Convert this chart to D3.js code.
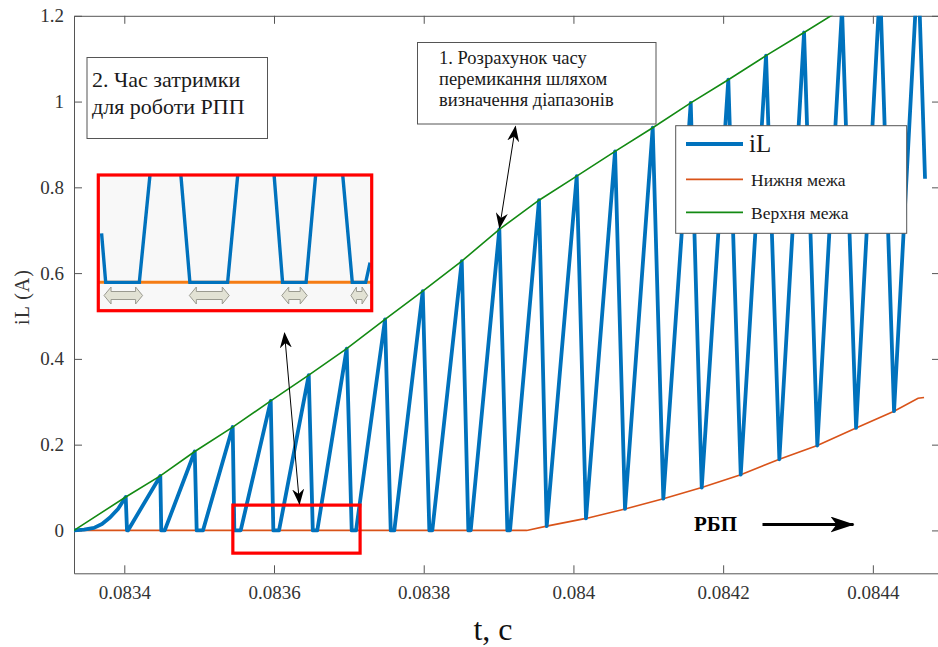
<!DOCTYPE html>
<html><head><meta charset="utf-8">
<script src="https://cdn.jsdelivr.net/npm/d3@7"></script>
<style>
body{margin:0;background:#fff;}
svg{display:block;}
text{font-family:"Liberation Serif","Times New Roman",serif;}
</style></head>
<body>
<svg id="chart" width="938" height="647"></svg>
<script>
// ---- data ----
const tiL = [0.0833328,0.0833462,0.0833595,0.0833702,0.0833809,0.0833916,0.0834019,0.0834036,0.0834049,
  0.0834481,0.0834494,0.0834540,0.0834941,0.0834967,0.0835051,0.0835448,0.0835470,0.0835555,
  0.0835956,0.0835991,0.0836067,0.0836464,0.0836518,0.0836578,0.0836971,0.0837038,0.0837096,
  0.0837483,0.0837559,0.0837607,0.0837987,0.0838075,0.0838115,0.0838508,0.0838596,0.0838628,
  0.0839010,0.0839117,0.0839153,0.0839540,0.0839643,0.0840044,0.0840168,0.0840556,0.0840689,
  0.0841059,0.0841201,0.0841567,0.0841714,0.0842069,0.0842235,0.0842573,0.0842751,0.0843081,
  0.0843258,0.0843588,0.0843776,0.0844096,0.0844283,0.0844604,0.0844697];
const iL = [0,0.002,0.006,0.015,0.030,0.050,0.078,0,0,
  0.127,0,0,0.184,0,0,0.241,0,0,
  0.302,0,0,0.362,0,0,0.424,0,0,
  0.492,0,0,0.558,0,0,0.628,0,0,
  0.702,0,0,0.770,0.010,0.826,0.028,0.884,0.050,
  0.939,0.074,0.997,0.100,1.051,0.130,1.107,0.166,1.161,
  0.198,1.216,0.239,1.270,0.278,1.325,0.820];
const tLower = [0.0833328,0.0839376,0.0839643,0.0840168,0.0840689,0.0841201,0.0841714,0.0842235,0.0842751,0.0843258,0.0843776,0.0844283,0.0844604,0.0844684];
const lower  = [0,0,0.010,0.028,0.050,0.074,0.100,0.130,0.166,0.198,0.239,0.278,0.308,0.310];
const tUpper = [0.0833328,0.0834019,0.0834481,0.0834941,0.0835448,0.0835956,0.0836464,0.0836971,0.0837483,0.0837987,0.0838508,0.0839010,0.0839540,0.0840044,0.0840556,0.0841059,0.0841567,0.0842069,0.0842573,0.0843081,0.0843588,0.0844096,0.0844604];
const upper  = [0,0.078,0.127,0.184,0.241,0.302,0.362,0.424,0.492,0.558,0.628,0.702,0.770,0.826,0.884,0.939,0.997,1.051,1.107,1.161,1.216,1.270,1.325];
const xTicks = [0.0834,0.0836,0.0838,0.0840,0.0842,0.0844];
const xTickLabels = ["0.0834","0.0836","0.0838","0.084","0.0842","0.0844"];
const yTicks = [0,0.2,0.4,0.6,0.8,1.0,1.2];
const yTickLabels = ["0","0.2","0.4","0.6","0.8","1","1.2"];
const zoomBox = {t0:0.083545, t1:0.083715, v0:-0.053, v1:0.059};
// inset (schematic magnification), in inset units 0..100
const insetU = [1.2,2.7,15.0,18.9,null,30.2,33.5,47.3,51.0,null,64.3,67.4,76.0,79.5,null,89.4,92.9,97.8,99.4];
const insetW = [57.0,20.9,20.9,100,null,100,20.9,20.9,100,null,100,20.9,20.9,100,null,100,20.9,20.9,35.4];
const insetLowerW = 20.9;
const gapStart = [2.1,33.3,67.1,92.4];
const gapEnd   = [16.2,47.9,76.4,98.5];
const legendNames = ["iL","Нижня межа","Верхня межа"];

// ---- layout ----
const svg = d3.select("#chart");
const L=74, R=940, T=15.8, B=573.3;
const x = d3.scaleLinear().domain([0.0833328,0.0844897]).range([L,R]);
const y = d3.scaleLinear().domain([-0.1,1.2]).range([B,T]);
const axisCol = "#555", txtCol = "#333";
const serif = "Liberation Serif";
const cBlue="#0072BD", cOrange="#D95319", cGreen="#138a13";

svg.append("defs").append("clipPath").attr("id","plotclip")
  .append("rect").attr("x",L).attr("y",T).attr("width",R-L).attr("height",B-T);

// axes
function styleAxis(g){
  g.attr("font-family",serif);
  g.selectAll(".domain").attr("stroke",axisCol).attr("stroke-width",1);
  g.selectAll(".tick line").attr("stroke",axisCol).attr("stroke-width",1);
  g.selectAll(".tick text").attr("fill",txtCol).attr("font-family",serif).attr("font-size",19);
}
svg.append("g").attr("transform",`translate(0,${B})`)
  .call(d3.axisBottom(x).tickValues(xTicks).tickFormat((d,i)=>xTickLabels[i]).tickSize(-8).tickSizeOuter(0).tickPadding(12))
  .call(styleAxis);
svg.append("g").attr("transform",`translate(0,${T})`)
  .call(d3.axisTop(x).tickValues(xTicks).tickFormat("").tickSize(-8).tickSizeOuter(0))
  .call(styleAxis);
svg.append("g").attr("transform",`translate(${L},0)`)
  .call(d3.axisLeft(y).tickValues(yTicks).tickFormat((d,i)=>yTickLabels[i]).tickSize(-8).tickSizeOuter(0).tickPadding(10))
  .call(styleAxis);
svg.append("g").attr("transform",`translate(${R},0)`)
  .call(d3.axisRight(y).tickValues(yTicks).tickFormat("").tickSize(-8).tickSizeOuter(0))
  .call(styleAxis);

// lines
const plot = svg.append("g").attr("clip-path","url(#plotclip)");
const line = d3.line().x(d=>x(d[0])).y(d=>y(d[1]));
plot.append("path").attr("d",line(tLower.map((t,i)=>[t,lower[i]])))
  .attr("fill","none").attr("stroke",cOrange).attr("stroke-width",1.6);
plot.append("path").attr("d",line(tiL.map((t,i)=>[t,iL[i]])))
  .attr("fill","none").attr("stroke",cBlue).attr("stroke-width",3.8).attr("stroke-linejoin","round");
plot.append("path").attr("d",line(tUpper.map((t,i)=>[t,upper[i]])))
  .attr("fill","none").attr("stroke",cGreen).attr("stroke-width",1.6);

// zoom box
svg.append("rect").attr("x",x(zoomBox.t0)).attr("y",y(zoomBox.v1))
  .attr("width",x(zoomBox.t1)-x(zoomBox.t0)).attr("height",y(zoomBox.v0)-y(zoomBox.v1))
  .attr("fill","none").attr("stroke","#ff0000").attr("stroke-width",3.2);

// axis labels
svg.append("text").attr("transform","translate(29,297) rotate(-90)").attr("text-anchor","middle")
  .attr("font-family",serif).attr("font-size",20).attr("fill",txtCol).attr("letter-spacing",1).text("iL (A)");
svg.append("text").attr("x",493).attr("y",640).attr("text-anchor","middle")
  .attr("font-family",serif).attr("font-size",32).attr("fill","#111").text("t, c");

// inset
const ix = d3.scaleLinear().domain([0,100]).range([98.3,371.7]);
const iy = d3.scaleLinear().domain([0,100]).range([310.7,175]);
svg.append("defs").append("clipPath").attr("id","insetclip")
  .append("rect").attr("x",ix(0)).attr("y",iy(100)).attr("width",ix(100)-ix(0)).attr("height",iy(0)-iy(100));
svg.append("rect").attr("x",ix(0)).attr("y",iy(100)).attr("width",ix(100)-ix(0)).attr("height",iy(0)-iy(100))
  .attr("fill","#f8f8f8");
const ig = svg.append("g").attr("clip-path","url(#insetclip)");
ig.append("line").attr("x1",ix(0)).attr("x2",ix(100)).attr("y1",iy(insetLowerW)).attr("y2",iy(insetLowerW))
  .attr("stroke","#f57c14").attr("stroke-width",3);
const iline = d3.line().defined(d=>d[0]!==null).x(d=>ix(d[0])).y(d=>iy(d[1]));
ig.append("path").attr("d",iline(insetU.map((u,i)=>[u,insetW[i]])))
  .attr("fill","none").attr("stroke",cBlue).attr("stroke-width",3.4);
// double arrows
gapStart.forEach((s,i)=>{
  const x0=ix(s), x1=ix(gapEnd[i]), yc=iy(11.2);
  const hl=Math.min(7,(x1-x0)/3), bh=4, hh=8.5;
  const pts=[[x0,yc],[x0+hl,yc-hh],[x0+hl,yc-bh],[x1-hl,yc-bh],[x1-hl,yc-hh],[x1,yc],[x1-hl,yc+hh],[x1-hl,yc+bh],[x0+hl,yc+bh],[x0+hl,yc+hh]];
  ig.append("path").attr("d","M"+pts.map(p=>p.join(",")).join("L")+"Z")
    .attr("fill","#e2e2d4").attr("stroke","#9a9a90").attr("stroke-width",1);
});
svg.append("rect").attr("x",ix(0)).attr("y",iy(100)).attr("width",ix(100)-ix(0)).attr("height",iy(0)-iy(100))
  .attr("fill","none").attr("stroke","#ff0000").attr("stroke-width",3.2);

// annotation boxes
function textBox(x0,y0,w,h,lines,fs,tx,ty,lh){
  svg.append("rect").attr("x",x0).attr("y",y0).attr("width",w).attr("height",h)
    .attr("fill","#fff").attr("stroke","#555").attr("stroke-width",1);
  lines.forEach((s,i)=>svg.append("text").attr("x",tx).attr("y",ty+i*lh).attr("font-family",serif)
    .attr("font-size",fs).attr("fill","#1a1a1a").text(s));
}
textBox(87,57.5,180.5,81,["2. Час затримки","для роботи РПП"],22,92,87,27);
textBox(417.5,42.5,238.5,81.5,["1. Розрахунок часу","перемикання шляхом","визначення діапазонів"],18.5,439,64,21);

// double-headed arrows
const defs = svg.append("defs");
defs.append("marker").attr("id","ah").attr("viewBox","0 0 16 12").attr("refX",15).attr("refY",6)
  .attr("markerWidth",16).attr("markerHeight",12).attr("markerUnits","userSpaceOnUse").attr("orient","auto-start-reverse")
  .append("path").attr("d","M0,0 L16,6 L0,12 L5,6 Z").attr("fill","#000");
function dArrow(x1,y1,x2,y2){
  svg.append("line").attr("x1",x1).attr("y1",y1).attr("x2",x2).attr("y2",y2)
    .attr("stroke","#000").attr("stroke-width",1)
    .attr("marker-start","url(#ah)").attr("marker-end","url(#ah)");
}
dArrow(515.5,126.5,499.5,228);
dArrow(284.5,333,299.5,504);

// РБП arrow
svg.append("text").attr("x",694).attr("y",531).attr("font-family",serif).attr("font-size",21)
  .attr("font-weight","bold").attr("fill","#000").text("РБП");
defs.append("marker").attr("id","ah2").attr("viewBox","0 0 24 16").attr("refX",23).attr("refY",8)
  .attr("markerWidth",24).attr("markerHeight",16).attr("markerUnits","userSpaceOnUse").attr("orient","auto")
  .append("path").attr("d","M0,0 L24,8 L0,16 L6,8 Z").attr("fill","#000");
svg.append("line").attr("x1",762.5).attr("y1",524.5).attr("x2",853.5).attr("y2",524.5)
  .attr("stroke","#000").attr("stroke-width",3).attr("marker-end","url(#ah2)");

// legend
const lg = svg.append("g");
lg.append("rect").attr("x",675.7).attr("y",125.7).attr("width",231).attr("height",107.6)
  .attr("fill","#fff").attr("stroke","#555").attr("stroke-width",1);
const lgCols=[cBlue,cOrange,cGreen], lgW=[4,1.8,1.8], lgY=[144,179.3,212.3], lgFs=[25,17.5,17.5];
legendNames.forEach((n,i)=>{
  lg.append("line").attr("x1",686).attr("x2",743).attr("y1",lgY[i]).attr("y2",lgY[i])
    .attr("stroke",lgCols[i]).attr("stroke-width",lgW[i]);
  lg.append("text").attr("x",i===0?749:751).attr("y",lgY[i]+(i===0?8:6.5)).attr("font-family",serif)
    .attr("font-size",lgFs[i]).attr("fill","#1a1a1a").text(n);
});
</script>
</body></html>
